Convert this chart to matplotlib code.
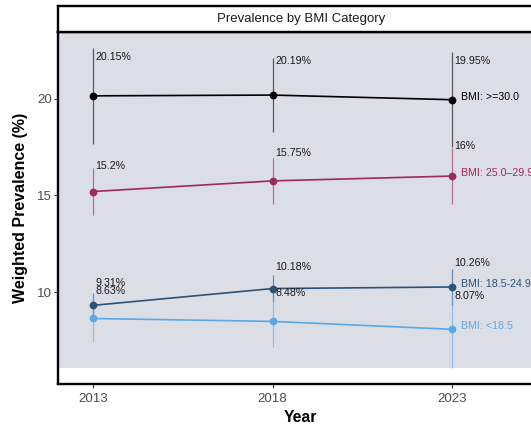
import matplotlib
matplotlib.use("Agg")
import matplotlib.pyplot as plt

plt.rcParams["font.family"] = ["Liberation Sans", "DejaVu Sans"]

# ---- data -------------------------------------------------------------
years = [2013, 2018, 2023]
categories = ["BMI: >=30.0", "BMI: 25.0\u201329.9", "BMI: 18.5-24.9", "BMI: <18.5"]

obese = [20.15, 20.19, 19.95]
overweight = [15.20, 15.75, 16.00]
normal = [9.31, 10.18, 10.26]
underweight = [8.63, 8.48, 8.07]

# half-widths of the confidence intervals
obese_moe = [2.50, 1.93, 2.47]
overweight_moe = [1.21, 1.18, 1.44]
normal_moe = [0.64, 0.69, 0.92]
underweight_moe = [1.20, 1.30, 2.00]

series = [obese, overweight, normal, underweight]
moes = [obese_moe, overweight_moe, normal_moe, underweight_moe]

# ---- styling ----------------------------------------------------------
colors = ["#000000", "#9e2a5a", "#2b5278", "#5aa9e6"]
label_dy = [[39, 34, 39], [26, 28, 30], [22, 22, 24], [27, 28, 33]]  # pixels above point
panel_grey = "#dcdee6"

W, H = 531, 425
fig = plt.figure(figsize=(W / 100, H / 100), dpi=100)
left, right = 58.3, 543.0
top_strip, strip_bot, bottom = 6.1, 31.5, 384.0

ax = fig.add_axes([left / W, (H - bottom) / H, (right - left) / W, (bottom - strip_bot) / H])
strip = fig.add_axes([left / W, (H - strip_bot) / H, (right - left) / W, (strip_bot - top_strip) / H])

# y range with 5% expansion around the interval extremes
lows = [v - m for s, ms in zip(series, moes) for v, m in zip(s, ms)]
highs = [v + m for s, ms in zip(series, moes) for v, m in zip(s, ms)]
ymin, ymax = min(lows), max(highs)
pad = 0.05 * (ymax - ymin)
ax.set_ylim(ymin - pad, ymax + pad)
ax.set_xlim(2012.03, 2025.53)

ax.set_facecolor("white")
ax.axhspan(ymin, ymax + pad, color=panel_grey, zorder=0, lw=0)

for s, ms, c in zip(series, moes, colors):
    for x, v, m in zip(years, s, ms):
        ax.plot([x, x], [v - m, v + m], color=c, alpha=0.6, lw=0.9, zorder=2,
                solid_capstyle="butt")
for s, c in zip(series, colors):
    ax.plot(years, s, color=c, lw=1.2, zorder=3)
    ax.plot(years, s, "o", color=c, ms=5.6, zorder=4, mec="none")

for s, c, dys in zip(series, colors, label_dy):
    for x, v, dy in zip(years, s, dys):
        ax.annotate(f"{v:g}%", (x, v), xytext=(2.5, dy), textcoords="offset pixels",
                    ha="left", va="center", fontsize=7.7, color="#1a1a1a", zorder=5)

for s, c, name in zip(series, colors, categories):
    ax.annotate(name, (years[-1], s[-1]), xytext=(9, 3), textcoords="offset pixels",
                ha="left", va="center", fontsize=7.7, color=c, zorder=5)

ax.set_xticks(years)
ax.set_yticks([10, 15, 20])
ax.tick_params(axis="both", length=3, width=0.8, color="#333333",
               labelcolor="#4d4d4d", labelsize=9.6)
ax.tick_params(axis="x", pad=3.2)
ax.tick_params(axis="y", pad=1.5)
for sp in ax.spines.values():
    sp.set_linewidth(1.7)
    sp.set_color("black")

ax.set_xlabel("Year", fontsize=11.3, fontweight="bold", labelpad=4)
fig.text(21 / W, (H - (strip_bot + bottom) / 2) / H, "Weighted Prevalence (%)",
         rotation=90, ha="center", va="center", fontsize=11.5, fontweight="bold")

strip.set_facecolor("white")
strip.set_xticks([])
strip.set_yticks([])
for sp in strip.spines.values():
    sp.set_linewidth(1.7)
    sp.set_color("black")
strip.text(0.5, 0.5, "Prevalence by BMI Category", ha="center", va="center",
           fontsize=9.5, color="#1a1a1a", transform=strip.transAxes)

fig.savefig("out.png", dpi=100)
